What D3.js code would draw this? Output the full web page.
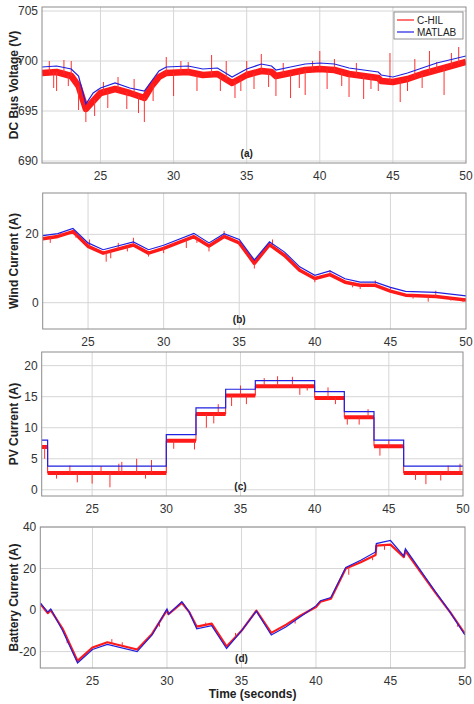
<!DOCTYPE html>
<html><head><meta charset="utf-8">
<script src="https://cdn.jsdelivr.net/npm/d3@7"></script>
<style>body{margin:0;background:#fff}</style>
</head><body><svg id="c" width="474" height="704"></svg>
<script>
// MATLAB (blue) traces, [time, value]
const voltMatlab = [[21,699.4],[22,699.5],[23,699.2],[23.5,698.5],[24,695.7],[24.5,696.8],[25,697.3],[26,697.8],[27,697.3],[28,697],[28.5,698],[29,699],[29.5,699.4],[31,699.5],[32,699.2],[33,699.3],[34,698.4],[35,699.2],[36,699.7],[36.7,699.5],[37,699.1],[38,699.4],[39,699.7],[40,699.8],[41,699.7],[42,699.3],[43,699.1],[44,698.9],[44.2,698.6],[45,698.4],[46,698.8],[47,699.3],[48,699.8],[50,700.5]]
const voltHil = [[21,698.8],[22,698.9],[23,698.5],[23.5,697.5],[24,695.2],[24.5,696],[25,696.8],[26,697.2],[27,696.8],[28,696.3],[28.5,697.5],[29,698.4],[29.5,698.8],[31,698.9],[32,698.6],[33,698.7],[34,697.8],[35,698.6],[36,699],[36.7,698.9],[37,698.5],[38,698.8],[39,699.1],[40,699.2],[41,699.1],[42,698.7],[43,698.5],[44,698.3],[44.2,698],[45,697.9],[46,698.2],[47,698.7],[48,699.1],[50,699.9]]
const voltSpikes = [[21.5,700],[21.8,697.3],[22,697],[22.5,700.1],[22.8,697.5],[23,700],[23.5,695.1],[24,693.9],[24.6,694.5],[25.2,697.9],[25.5,695.3],[26.2,698.4],[26.8,695.2],[27.3,698.2],[27.6,694.8],[28,693.9],[28.6,696],[29.5,700.4],[30,696.5],[30.5,700],[31,699.9],[31.6,697],[32.6,700.6],[33.2,697],[33.6,700],[34.2,696.3],[34.6,697],[35,700],[35.5,697.2],[36,700.7],[36.5,697.4],[37,696.5],[37.5,699.8],[38,696.3],[38.6,697.3],[39,696.6],[39.5,700],[40,701],[40.5,697.2],[41,700.2],[41.5,697.5],[42,696.4],[42.5,699.8],[43,696.2],[43.5,697.2],[44,697],[44.8,700.8],[45.5,695.9],[46,697],[46.5,700.2],[47,697.3],[47.5,701],[48,699.9],[48.5,696.6],[49,700.8],[49.5,701.4]]

const windMatlab = [[22,19.6],[23,20.2],[24,21.7],[25,17.5],[26,15.5],[28,17.8],[29,15.5],[30,16.8],[32,20.3],[33,17.5],[34,20.2],[35,18.5],[36,12.5],[37,17.8],[38,14.8],[39,10.5],[40,8],[41,9.3],[42,7],[43,6],[44,6],[45,4.5],[46,3.3],[48,3],[50,2]]
const windHil = [[22,18.7],[23,19.4],[24,20.8],[25,16.5],[26,14.5],[28,16.9],[29,14.5],[30,15.9],[32,19.3],[33,16.6],[34,19.4],[35,17.5],[36,11.5],[37,17],[38,13.8],[39,9.5],[40,7.1],[41,8.2],[42,6],[43,5.1],[44,5.1],[45,3.4],[46,2.2],[48,1.8],[50,0.8]]
const windSpikes = [[22.5,17.5],[23.2,20.5],[24.2,19],[25.1,18.5],[26.2,12],[26.5,13],[27,17.5],[27.6,15],[28,19],[29,13.5],[30,14.5],[30.6,17.5],[31.5,16],[32.2,17.5],[33,15],[34,21],[36,10],[37.2,18.5],[38.5,11.5],[40,6],[41,9.5],[42.5,4.5],[43,4],[44,6.5],[45,4.5],[46.5,1.2],[47.5,0.3],[48,3.5],[49,0.6],[49.8,0.2]]

const pvSteps = [21.6,22,30,32,34,36,40,42,44,46,50]
const pvMatlab = [8,3.8,8.9,13.2,16.2,17.6,15.8,12.6,8,3.8]
const pvHil = [6.9,2.7,7.9,12.2,15.2,16.7,14.8,11.7,7,2.7]
const pvSpikes = [[21.8,5],[22.6,1.8],[23.5,3.9],[24,1.2],[25,1],[25.6,3.8],[26.2,0.4],[26.8,4.2],[27,4.5],[28,5],[28.6,1.8],[29,4.8],[30.5,6.6],[31.9,6.5],[32.7,10],[33.5,13.8],[33.2,10.7],[34.4,13.5],[35,16.8],[35.4,13.8],[36.6,18],[37.5,18.3],[38.5,18.2],[39,15.3],[39.5,16],[40.9,16.5],[41.4,13.8],[42.2,10.5],[43,10.5],[43.6,13],[44.4,5.5],[45,8],[46.8,1.6],[47.5,0.9],[48.5,1.5],[49,3.9],[49.8,4.2]]

const battMatlab = [[21.5,3.5],[22,-1],[22.2,0.5],[23,-10],[24,-25.5],[25,-19],[26,-16.5],[28,-20],[29,-12],[30,0.5],[30.1,-2],[31,4],[31.5,-1],[32,-9],[33,-7.5],[34,-18.5],[35,-10],[36,-0.5],[37,-12],[38,-8],[39,-3],[40,2],[40.3,4.5],[41,6],[42,20.5],[43,24],[44,28],[44.05,32],[45,33.5],[45.9,26],[46,29.5],[48,9],[49,-1],[50,-12]]
const battHil = [[21.5,3],[22,-1.5],[22.2,0],[23,-9],[24,-24.5],[25,-18],[26,-15.5],[28,-19],[29,-11.5],[30,0],[30.1,-2],[31,3.5],[31.5,-1],[32,-8],[33,-6.5],[34,-17.5],[35,-10],[36,-0.3],[37,-11],[38,-7],[39,-2.5],[40,1.5],[40.3,4],[41,5.5],[42,20],[43,23],[44,26.5],[44.05,31],[45,31.5],[45.9,25.5],[46,28.5],[48,8.5],[49,-1],[50,-11.5]]
const battSpikes = [[23.3,-16],[26.3,-14],[27,-15.5],[29.5,-8],[32.6,-6],[34.6,-11],[38.6,-6.5],[39.5,-0.5],[42.2,17],[43.8,24],[44.6,29],[45.3,30],[49.5,-8]]

const xTicks = [25,30,35,40,45,50]
const panels = [
  {top:7, bottom:163, left:42, right:466, x:[21,50], y:[689.8,705.4], yTicks:[690,695,700,705], label:"DC Bus Voltage (V)", tag:"(a)",
   hil:voltHil, matlab:voltMatlab, spikes:voltSpikes, band:6.5, legend:true},
  {top:193, bottom:329, left:42.7, right:466, x:[22,50], y:[-7.7,32.1], yTicks:[0,20], label:"Wind Current  (A)", tag:"(b)",
   hil:windHil, matlab:windMatlab, spikes:windSpikes, band:3.5},
  {top:352, bottom:496, left:41.7, right:463, x:[21.6,50], y:[-1,22.2], yTicks:[0,5,10,15,20], label:"PV Current (A)", tag:"(c)",
   hil:stepPts(pvHil), matlab:stepPts(pvMatlab), spikes:pvSpikes, band:4, steps:true},
  {top:527, bottom:668, left:40.3, right:465, x:[21.5,50], y:[-27.9,40], yTicks:[-20,0,20,40], label:"Battery Current (A)", tag:"(d)",
   hil:battHil, matlab:battMatlab, spikes:battSpikes, band:2.2, xlabel:"Time (seconds)"}
]

function stepPts(vals){
  const pts = []
  vals.forEach((v,i) => { pts.push([pvSteps[i],v]); pts.push([pvSteps[i+1],v]) })
  return pts
}

const svg = d3.select("#c")
const font = "Arial, 'Liberation Sans', sans-serif"

panels.forEach(p => {
  const x = d3.scaleLinear().domain(p.x).range([p.left,p.right])
  const y = d3.scaleLinear().domain(p.y).range([p.bottom,p.top])
  const g = svg.append("g")
  const cp = "clip" + p.tag.replace(/\W/g,"")
  g.append("clipPath").attr("id",cp).append("rect")
    .attr("x",p.left).attr("y",p.top).attr("width",p.right-p.left).attr("height",p.bottom-p.top)

  // grid
  g.selectAll(".gx").data(xTicks.filter(t => t < p.x[1])).join("line")
    .attr("x1",d=>x(d)).attr("x2",d=>x(d)).attr("y1",p.top).attr("y2",p.bottom)
    .attr("stroke","#d6d6d6").attr("stroke-width",1)
  g.selectAll(".gy").data(p.yTicks).join("line")
    .attr("y1",d=>y(d)).attr("y2",d=>y(d)).attr("x1",p.left).attr("x2",p.right)
    .attr("stroke","#d6d6d6").attr("stroke-width",1)

  const line = d3.line().x(d=>x(d[0])).y(d=>y(d[1]))
  const plot = g.append("g").attr("clip-path",`url(#${cp})`)
  if (p.steps) {
    // thin red trace with thick bands on the flat parts only
    plot.append("path").attr("d",line(p.hil)).attr("fill","none").attr("stroke","#ff1a1a").attr("stroke-width",1)
    plot.selectAll(".seg").data(d3.range(0,p.hil.length,2)).join("line")
      .attr("x1",i=>x(p.hil[i][0])).attr("x2",i=>x(p.hil[i+1][0]))
      .attr("y1",i=>y(p.hil[i][1])).attr("y2",i=>y(p.hil[i][1]))
      .attr("stroke","#ff1a1a").attr("stroke-width",p.band)
  } else {
    plot.append("path").attr("d",line(p.hil)).attr("fill","none")
      .attr("stroke","#ff1a1a").attr("stroke-width",p.band).attr("stroke-linejoin","round")
  }
  plot.selectAll(".sp").data(p.spikes).join("line")
    .attr("x1",d=>x(d[0])).attr("x2",d=>x(d[0]))
    .attr("y1",d=>y(d[1]))
    .attr("y2",d=>{
      // attach spike to red trace
      const i = d3.bisector(e=>e[0]).left(p.hil,d[0])
      const a = p.hil[Math.max(0,i-1)], b = p.hil[Math.min(p.hil.length-1,i)]
      const v = a[0]===b[0] ? b[1] : a[1]+(b[1]-a[1])*(d[0]-a[0])/(b[0]-a[0])
      return y(v)
    })
    .attr("stroke","#ff3030").attr("stroke-width",1)
  plot.append("path").attr("d",line(p.matlab)).attr("fill","none")
    .attr("stroke","#2020e0").attr("stroke-width",1.2)

  // box
  g.append("rect").attr("x",p.left).attr("y",p.top).attr("width",p.right-p.left).attr("height",p.bottom-p.top)
    .attr("fill","none").attr("stroke","#8c8c8c").attr("stroke-width",1)

  g.selectAll(".tx").data(xTicks).join("text")
    .attr("x",d=>x(d)).attr("y",p.bottom+17).attr("text-anchor","middle")
    .attr("font-family",font).attr("font-size",12).attr("fill","#333").text(d=>d)
  g.selectAll(".ty").data(p.yTicks).join("text")
    .attr("x",p.left-4).attr("y",d=>y(d)+4).attr("text-anchor","end")
    .attr("font-family",font).attr("font-size",12).attr("fill","#333").text(d=>d)

  g.append("text").attr("transform",`translate(18,${(p.top+p.bottom)/2}) rotate(-90)`)
    .attr("text-anchor","middle").attr("font-family",font).attr("font-size",12).attr("font-weight","bold")
    .attr("fill","#222").text(p.label)
  g.append("text").attr("x",x(35)).attr("y",p.bottom-6).attr("text-anchor","middle")
    .attr("font-family",font).attr("font-size",10).attr("font-weight","bold").attr("fill","#222").text(p.tag)
  if (p.xlabel) g.append("text").attr("x",(p.left+p.right)/2).attr("y",698).attr("text-anchor","middle")
    .attr("font-family",font).attr("font-size",12).attr("font-weight","bold").attr("fill","#222").text(p.xlabel)

  if (p.legend) {
    const lg = g.append("g")
    lg.append("rect").attr("x",394).attr("y",12).attr("width",69).attr("height",27)
      .attr("fill","#fff").attr("stroke","#777").attr("stroke-width",0.8)
    ;[["C-HIL","#ff1a1a",20],["MATLAB","#2020e0",32]].forEach(([t,c,yy]) => {
      lg.append("line").attr("x1",397).attr("x2",414).attr("y1",yy).attr("y2",yy).attr("stroke",c).attr("stroke-width",1.2)
      lg.append("text").attr("x",417).attr("y",yy+3.5).attr("font-family",font).attr("font-size",10).attr("fill","#222").text(t)
    })
  }
})
</script></body></html>
